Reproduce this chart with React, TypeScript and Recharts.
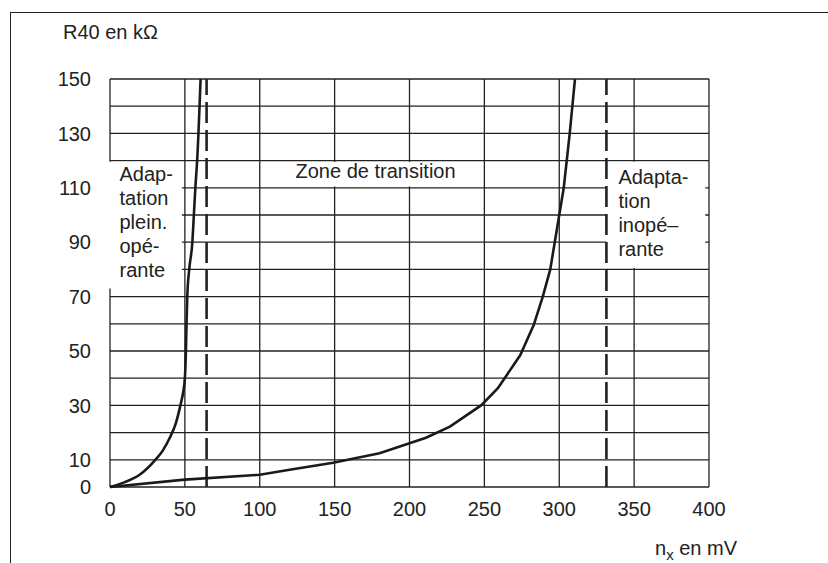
import React from 'react';
import { LineChart, Line, XAxis, YAxis, CartesianGrid, ReferenceLine, ReferenceArea } from 'recharts';

// courbe gauche (adaptation pleinement opérante)
const leftX = [0, 10, 20, 30, 35, 40, 44, 47, 48.9, 50, 50.7, 51.1, 51.6, 52.9, 55, 56, 57, 58.2, 60.5];
const leftY = [0, 1.8, 4.6, 9.8, 13.2, 18.2, 23.5, 30, 35, 40, 50, 60, 70, 80, 90, 100, 110, 120, 150];

// courbe droite (zone de transition)
const rightX = [0, 50, 100, 122, 149, 180, 211, 227, 248, 259, 274, 283, 289, 294, 300, 303, 307, 310.5];
const rightY = [0, 2.7, 4.5, 6.5, 8.9, 12.4, 18.1, 22.2, 30.1, 36.3, 48.5, 59.6, 70, 80, 100, 110, 130, 150];

const xTicks = [0, 50, 100, 150, 200, 250, 300, 350, 400];
const yTicks = [0, 10, 30, 50, 70, 90, 110, 130, 150];
const yGrid = [0, 10, 20, 30, 40, 50, 60, 70, 80, 90, 100, 110, 120, 130, 140, 150];
const limits = [64.5, 331.5];

const leftText = ['Adap-', 'tation', 'plein.', 'opé-', 'rante'];
const rightText = ['Adapta-', 'tion', 'inopé–', 'rante'];

const leftData = leftX.map((x, i) => ({ x, r: leftY[i] }));
const rightData = rightX.map((x, i) => ({ x, r: rightY[i] }));

const font = '"Liberation Sans", Arial, Helvetica, sans-serif';
const ink = '#222';

const BoxText = ({ viewBox, lines, dx, dy, anchor }: any) => {
  const { x, y, width } = viewBox;
  const tx = anchor === 'middle' ? x + width / 2 : x + dx;
  return (
    <g>
      {lines.map((t: string, i: number) => (
        <text key={i} x={tx} y={y + dy + i * 24} fill={ink} fontSize={20} fontFamily={font} textAnchor={anchor || 'start'}>
          {t}
        </text>
      ))}
    </g>
  );
};

const App: React.FC = () => {
  const tick = { fill: ink, fontSize: 20, fontFamily: font };
  return (
    <div style={{ position: 'relative', width: 828, height: 563, overflow: 'hidden', fontFamily: font, background: '#fff' }}>
      <style>{`body{margin:0}`}</style>
      <div style={{ position: 'absolute', left: 10, top: 12, width: 830, height: 560, borderTop: `1.5px solid ${ink}`, borderLeft: `1.5px solid ${ink}` }} />
      <div style={{ position: 'absolute', left: 63, top: 22, fontSize: 20, lineHeight: '20px', color: ink, whiteSpace: 'nowrap' }}>
        R40 en kΩ
      </div>
      <div style={{ position: 'absolute', left: 655, top: 538, fontSize: 20, lineHeight: '20px', color: ink, whiteSpace: 'nowrap' }}>
        n<span style={{ fontSize: 15, position: 'relative', top: 5 }}>x</span> en mV
      </div>
      <div style={{ position: 'absolute', left: 0, top: 0 }}>
        <LineChart width={828} height={563} margin={{ top: 79, right: 119, bottom: 46, left: 50 }}>
          <CartesianGrid stroke={ink} strokeWidth={1.3} horizontalValues={yGrid} verticalValues={xTicks} />
          <XAxis
            type="number"
            dataKey="x"
            domain={[0, 400]}
            ticks={xTicks}
            axisLine={false}
            tickLine={false}
            tickSize={0}
            tickMargin={15}
            height={30}
            tick={tick}
            interval={0}
          />
          <YAxis
            type="number"
            domain={[0, 150]}
            ticks={yTicks}
            axisLine={false}
            tickLine={false}
            tickSize={0}
            tickMargin={19}
            width={60}
            tick={tick}
            interval={0}
          />
          <ReferenceArea
            x1={-1}
            x2={48}
            y1={73}
            y2={119.6}
            fill="#fff"
            fillOpacity={1}
            stroke="none"
            ifOverflow="visible"
            label={{ content: (p: any) => <BoxText viewBox={p.viewBox} lines={leftText} dx={11} dy={19} /> }}
          />
          <ReferenceArea
            x1={120}
            x2={234.7}
            y1={110.5}
            y2={119.5}
            fill="#fff"
            fillOpacity={1}
            stroke="none"
            label={{ content: (p: any) => <BoxText viewBox={p.viewBox} lines={['Zone de transition']} dy={16.5} anchor="middle" /> }}
          />
          <ReferenceArea
            x1={limits[1]}
            x2={397.5}
            y1={80.5}
            y2={119.6}
            fill="#fff"
            fillOpacity={1}
            stroke="none"
            label={{ content: (p: any) => <BoxText viewBox={p.viewBox} lines={rightText} dx={12} dy={22.6} /> }}
          />
          {limits.map((v) => (
            <ReferenceLine key={v} x={v} stroke={ink} strokeWidth={2.6} strokeDasharray="21 7" />
          ))}
          <Line data={leftData} dataKey="r" type="monotone" stroke="#1a1a1a" strokeWidth={2.6} dot={false} isAnimationActive={false} />
          <Line data={rightData} dataKey="r" type="linear" stroke="#1a1a1a" strokeWidth={2.6} dot={false} isAnimationActive={false} />
        </LineChart>
      </div>
    </div>
  );
};

export default App;
